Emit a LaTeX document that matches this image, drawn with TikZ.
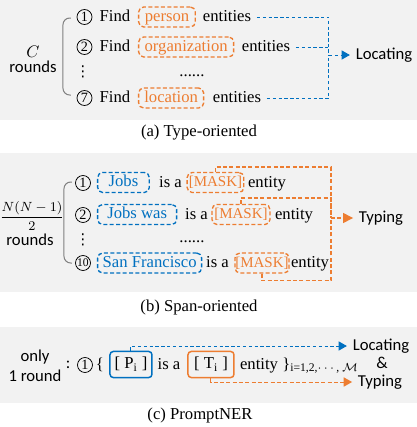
\documentclass[tikz,border=0pt]{standalone}
\usepackage{amsmath,amssymb}
\usepackage{fontspec}
\setmainfont{Liberation Serif}
\newfontfamily\calfont{Carlito}
\newfontfamily\symfont{DejaVu Sans}
\usetikzlibrary{positioning,arrows.meta,calc}
\definecolor{myorange}{RGB}{237,125,49}
\definecolor{myblue}{RGB}{0,112,192}
\definecolor{panelgray}{RGB}{242,242,242}

\tikzset{
  word/.style={text height=7pt, text depth=2pt},
  sansword/.style={font=\calfont, text height=7pt, text depth=2pt},
  cnum/.style={draw, circle, line width=0.45pt, minimum size=9pt, inner sep=0pt,
    font=\fontsize{8.5}{9}\selectfont},
  vdot/.style={inner sep=0pt, font=\symfont\fontsize{9}{9}\selectfont, text height=6.5pt, text depth=0pt},
  otag/.style={draw=myorange, text=myorange, line width=0.8pt, dash pattern=on 2.4pt off 1.4pt,
    rounded corners=3pt, text height=7pt, text depth=2pt, inner ysep=1.5pt},
  btag/.style={draw=myblue, text=myblue, line width=0.8pt, dash pattern=on 2.4pt off 1.4pt,
    rounded corners=3pt, text height=7pt, text depth=2pt, inner ysep=1.5pt, inner xsep=0pt},
  mtag/.style={otag, font=\fontsize{9}{10}\selectfont, inner xsep=0pt},
  boxp/.style={draw=#1, line width=0.9pt, rounded corners=2pt, minimum height=15pt,
    text height=7pt, text depth=2pt, inner xsep=0pt},
  bline/.style={myblue, line width=0.6pt, dash pattern=on 2pt off 1.5pt},
  oline/.style={myorange, line width=0.8pt, dash pattern=on 2.4pt off 1.4pt},
  ptr/.style={-{Triangle[length=5pt,width=5.5pt]}}
}

\begin{document}
\begin{tikzpicture}[x=0.6pt, y=-0.6pt]
    \useasboundingbox (0,0) rectangle (417,427);
    % panels
    \fill[panelgray] (0,0) rectangle (417,120);
    \fill[panelgray] (0,153) rectangle (417,292);
    \fill[panelgray] (0,327) rectangle (417,403);

    % (a) Type-oriented
    \node (ca) at (33,52) {$C$};
    \node[sansword] (ra) at (33,68) {rounds};
    \draw[gray, line width=0.6pt, rounded corners=4pt] (71,18) -- (63,18) -- (63,95) -- (71,95);
    \node[cnum] (na1) at (84.5,17) {1};
    \node[word] (fa1) at (115,17) {Find};
    \node[otag, anchor=west, minimum width=34pt, inner xsep=0pt] (ta1) at (138,17) {person};
    \node[word] (ea1) at (227,17) {entities};
    \node[cnum] (na2) at (84.5,47) {2};
    \node[word] (fa2) at (115,47) {Find};
    \node[otag, anchor=west, minimum width=57pt, inner xsep=0pt] (ta2) at (138,47) {organization};
    \node[word] (ea2) at (266,47) {entities};
    \node[vdot] (va) at (83,71) {⋮};
    \node[word] (da) at (192,72) {......};
    \node[cnum] (na3) at (84.5,98) {7};
    \node[word] (fa3) at (115,98) {Find};
    \node[otag, anchor=west, minimum width=39pt, inner xsep=0pt] (ta3) at (138,98) {location};
    \node[word] (ea3) at (237,98) {entities};
    \coordinate (ja) at (329,55);
    \node[sansword] (loca) at (384,55) {Locating};
    \draw[bline] (ea1.east) -| (ja);
    \draw[bline] (ea2.east) -| (ja);
    \draw[bline] (ea3.east) -| (ja);
    \draw[bline, ptr] (ja) -- (loca.west);
    \node (capa) at (199,133) {(a) Type-oriented};

    % (b) Span-oriented
    \node (fb) at (32,216) {\fontsize{8.5}{10}\selectfont$\dfrac{N(N-1)}{2}$};
    \node[sansword] (rb) at (30,241) {rounds};
    \draw[gray, line width=0.6pt, rounded corners=4pt] (72,182) -- (64,182) -- (64,263) -- (72,263);
    \node[cnum] (nb1) at (83,183) {1};
    \node[btag, anchor=west, minimum width=31pt] (sb1) at (97,182.5) {Jobs};
    \node[word] (ib1) at (170.5,183) {is a};
    \node[mtag, minimum width=34pt] (mb1) at (215.5,182.5) {[MASK]};
    \node[word] (eb1) at (267,183) {entity};
    \node[cnum] (nb2) at (83,215) {2};
    \node[btag, anchor=west, minimum width=47.4pt] (sb2) at (97,214.5) {Jobs was};
    \node[word] (ib2) at (196.5,215) {is a};
    \node[mtag, minimum width=34.8pt] (mb2) at (241,214.5) {[MASK]};
    \node[word] (eb2) at (294,215) {entity};
    \node[vdot] (vb) at (83,239) {⋮};
    \node[word] (db) at (192,238) {......};
    \node[cnum, font=\fontsize{7}{8}\selectfont] (nb3) at (83,263) {10};
    \node[btag, anchor=west, minimum width=62.4pt] (sb3) at (97,263) {San Francisco};
    \node[word] (ib3) at (217.5,263) {is a};
    \node[mtag, minimum width=32.4pt] (mb3) at (262,263) {[MASK]};
    \node[word] (eb3) at (310,263) {entity};
    \coordinate (jb) at (331,218);
    \node[sansword] (typb) at (381,218) {Typing};
    \draw[oline] (mb1.north) -- ++(0,-5) -| (jb);
    \draw[oline] (mb2.north) -- ++(0,-6) -| (jb);
    \draw[oline] (mb3.south) -- ++(0,7) -| (jb);
    \draw[oline, -{Triangle[length=6pt,width=6pt]}] (jb) -- (typb.west);
    \node (capb) at (199,307) {(b) Span-oriented};

    % (c) PromptNER
    \node[sansword] (oc) at (35,357) {only};
    \node[sansword] (rc) at (35,377) {1 round};
    \node[sansword] (cc) at (68,364) {:};
    \node[cnum] (nc) at (85,365) {1};
    \node[word] (lbc) at (100,365) {\{};
    \node[boxp=myblue, minimum width=25.2pt] (pc) at (131,364.5) {[ P\textsubscript{i} ]};
    \node[word] (ic) at (169,365) {is a};
    \node[boxp=myorange, minimum width=27.6pt] (tc) at (211,364.5) {[ T\textsubscript{i} ]};
    \node[word] (ec) at (259,365) {entity};
    \node[word, anchor=west, inner sep=0pt] (rbc) at (282,365) {\}\textsubscript{i=1,2,$\cdots$, $\mathcal{M}$}};
    \node[sansword] (locc) at (381,346) {Locating};
    \node[sansword] (ampc) at (382,364) {\&};
    \node[sansword] (typc) at (380,382) {Typing};
    \draw[bline, ptr] (pc.north) |- (locc.west);
    \draw[oline, line width=0.6pt, ptr] (tc.south) |- (typc.west);
    \node (capc) at (200,415) {(c) PromptNER};
\end{tikzpicture}
\end{document}
